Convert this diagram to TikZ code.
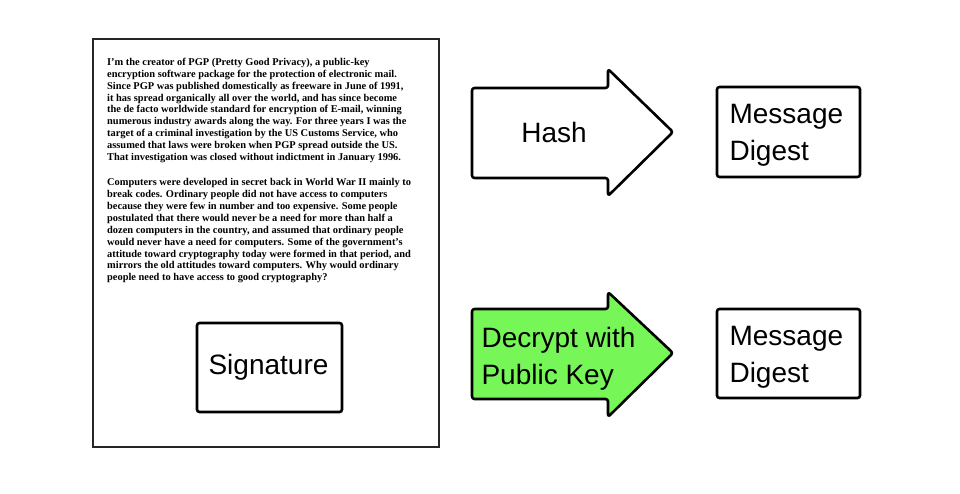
\documentclass[tikz,border=0pt]{standalone}
\usepackage{fontspec}
\setmainfont{Liberation Serif}
\newfontfamily\helv{Liberation Sans}
\definecolor{arrowgreen}{RGB}{119,246,88}
\tikzset{
  thickline/.style={line width=2.6pt, line join=round, rounded corners=2.5pt},
  labelbox/.style={draw, line width=2.6pt, rounded corners=2.5pt, inner sep=0pt},
  bigtext/.style={font=\helv\fontsize{28}{37}\selectfont},
  bodytext/.style={font=\fontsize{10.4}{11.85}\selectfont\bfseries, align=left, inner sep=0pt, anchor=north west}
}
\begin{document}
\begin{tikzpicture}[x=1pt,y=-1pt]
\useasboundingbox (0,0) rectangle (960,494);
% page
\draw[line width=1.2pt, draw=black!85] (93,39) rectangle (439,447);
\node[bodytext] (para1) at (107,58) {I'm the creator of PGP (Pretty Good Privacy), a public-key\\
encryption software package for the protection of electronic mail.\\
Since PGP was published domestically as freeware in June of 1991,\\
it has spread organically all over the world, and has since become\\
the de facto worldwide standard for encryption of E-mail, winning\\
numerous industry awards along the way. For three years I was the\\
target of a criminal investigation by the US Customs Service, who\\
assumed that laws were broken when PGP spread outside the US.\\
That investigation was closed without indictment in January 1996.};
\node[bodytext] (para2) at (107,178.5) {Computers were developed in secret back in World War II mainly to\\
break codes. Ordinary people did not have access to computers\\
because they were few in number and too expensive. Some people\\
postulated that there would never be a need for more than half a\\
dozen computers in the country, and assumed that ordinary people\\
would never have a need for computers. Some of the government's\\
attitude toward cryptography today were formed in that period, and\\
mirrors the old attitudes toward computers. Why would ordinary\\
people need to have access to good cryptography?};
% signature
\draw[labelbox] (197,323) rectangle (342,412);
\node[bigtext] (sig) at (268.5,367) {Signature};
% hash arrow
\draw[thickline, fill=white] (472,88) -- (608,88) -- (608,69) -- (673,132) -- (608,196) -- (608,178) -- (472,178) -- cycle;
\node[bigtext] (hash) at (554,132) {Hash};
% message digest top
\draw[labelbox] (717,87) rectangle (860,177);
\node[bigtext, align=left, anchor=west] (md1) at (726,135.5) {Message\\Digest};
% decrypt arrow
\draw[thickline, fill=arrowgreen] (472,309) -- (608,309) -- (608,292) -- (673,353) -- (608,417) -- (608,399) -- (472,399) -- cycle;
\node[bigtext, align=left, anchor=west] (dec) at (478,358.5) {Decrypt with\\Public Key};
% message digest bottom
\draw[labelbox] (717,309) rectangle (860,398);
\node[bigtext, align=left, anchor=west] (md2) at (726,357) {Message\\Digest};
\end{tikzpicture}
\end{document}
